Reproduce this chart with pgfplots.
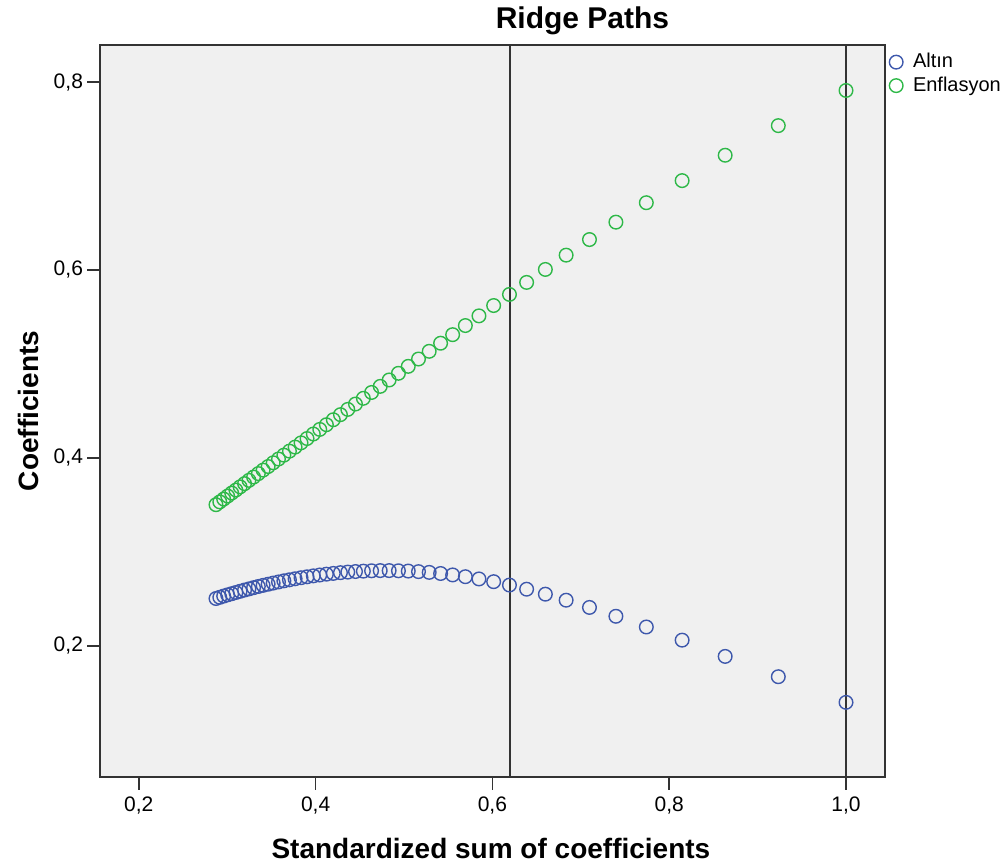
\documentclass[border=0pt]{standalone}
\usepackage{pgfplots}
\pgfplotsset{compat=1.18}
\usepackage{pgfplotstable}
\usepackage{fontspec}
\setmainfont{Liberation Sans}
\definecolor{spssblue}{HTML}{3E58AC}
\definecolor{spssgreen}{HTML}{2EB848}
\definecolor{plotbg}{HTML}{F0F0F0}
\definecolor{framec}{HTML}{333333}

\pgfplotstableread{
x altin enf
1.0000 0.1400 0.7910
0.9234 0.1673 0.7536
0.8633 0.1889 0.7221
0.8146 0.2062 0.6951
0.7741 0.2202 0.6716
0.7397 0.2316 0.6509
0.7098 0.2410 0.6324
0.6834 0.2487 0.6158
0.6599 0.2551 0.6006
0.6387 0.2604 0.5868
0.6193 0.2648 0.5740
0.6014 0.2684 0.5622
0.5848 0.2713 0.5512
0.5694 0.2737 0.5409
0.5550 0.2756 0.5312
0.5414 0.2771 0.5221
0.5285 0.2783 0.5135
0.5164 0.2791 0.5053
0.5048 0.2797 0.4975
0.4937 0.2800 0.4901
0.4832 0.2802 0.4830
0.4731 0.2802 0.4762
0.4633 0.2800 0.4697
0.4540 0.2796 0.4635
0.4451 0.2792 0.4574
0.4364 0.2786 0.4517
0.4281 0.2780 0.4461
0.4200 0.2772 0.4407
0.4122 0.2764 0.4354
0.4047 0.2755 0.4304
0.3974 0.2746 0.4255
0.3903 0.2736 0.4207
0.3835 0.2726 0.4161
0.3768 0.2715 0.4116
0.3704 0.2704 0.4073
0.3641 0.2693 0.4030
0.3580 0.2681 0.3989
0.3520 0.2669 0.3949
0.3463 0.2657 0.3909
0.3406 0.2645 0.3871
0.3352 0.2633 0.3834
0.3298 0.2620 0.3797
0.3246 0.2607 0.3762
0.3196 0.2595 0.3727
0.3146 0.2582 0.3693
0.3098 0.2569 0.3659
0.3051 0.2556 0.3627
0.3005 0.2544 0.3595
0.2960 0.2531 0.3563
0.2916 0.2518 0.3533
0.2873 0.2505 0.3503
}\ridgedata

\begin{document}
\begin{tikzpicture}
\useasboundingbox (0,0) rectangle (504pt,433.5pt);
\begin{axis}[
  at={(50pt,45pt)}, anchor=south west,
  scale only axis, width=392.5pt, height=366pt,
  xmin=0.1561, xmax=1.0441, ymin=0.0606, ymax=0.8394,
  axis background/.style={fill=plotbg},
  axis line style={framec, line width=0.75pt},
  xtick={0.2,0.4,0.6,0.8,1.0}, ytick={0.2,0.4,0.6,0.8},
  tick align=outside, xtick pos=left, ytick pos=left,
  major tick length=6.5pt,
  tick style={framec, line width=0.75pt},
  ticklabel style={font=\fontsize{10.5}{12}\selectfont},
  yticklabel style={xshift=1.5pt},
  /pgf/number format/use comma,
  /pgf/number format/fixed,
  /pgf/number format/fixed zerofill,
  /pgf/number format/precision=1,
  /pgf/number format/assume math mode=true,
  title={Ridge Paths},
  title style={font=\bfseries\fontsize{15}{18}\selectfont, at={(axis description cs:0.6146,1.0232)}, anchor=base, yshift=-6pt},
  xlabel={Standardized sum of coefficients},
  xlabel style={font=\bfseries\fontsize{14}{17}\selectfont, at={(axis description cs:0.498,-0.097)}, anchor=center},
  ylabel={Coefficients},
  ylabel style={font=\bfseries\fontsize{14}{17}\selectfont, at={(axis description cs:-0.0917,0.5)}, anchor=center},
  legend style={draw=none, fill=none, at={(1,1)}, anchor=north west, xshift=1pt, font=\fontsize{10}{12}\selectfont, inner xsep=1pt, inner ysep=2pt, row sep=-1pt, /tikz/every odd column/.append style={column sep=3pt}},
  legend cell align=left,
]
\addplot[only marks, mark=o, mark size=3.4pt, spssblue, mark options={line width=0.7pt}] table[x=x, y=altin] {\ridgedata};
\addlegendentry{Altın}
\addplot[only marks, mark=o, mark size=3.4pt, spssgreen, mark options={line width=0.7pt}] table[x=x, y=enf] {\ridgedata};
\addlegendentry{Enflasyon}
\addplot[framec, line width=1pt, forget plot] coordinates {(0.62,0.0606) (0.62,0.8394)};
\addplot[framec, line width=1pt, forget plot] coordinates {(1.0,0.0606) (1.0,0.8394)};
\end{axis}
\end{tikzpicture}
\end{document}
